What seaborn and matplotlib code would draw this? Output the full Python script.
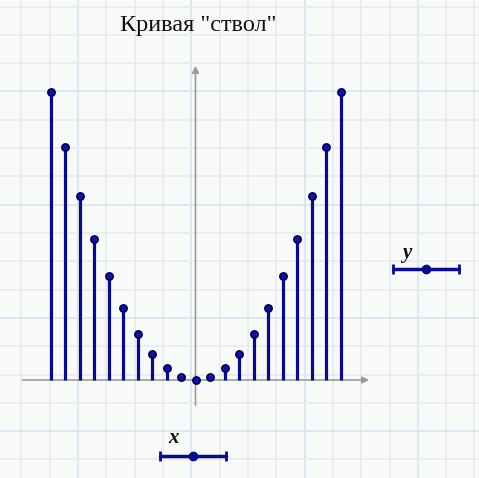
import numpy as np
import pandas as pd
import matplotlib
matplotlib.use("Agg")
import matplotlib.pyplot as plt
import seaborn as sns

# data: the "barrel" curve y = x^2 sampled at integers
x_vals = [-10, -9, -8, -7, -6, -5, -4, -3, -2, -1, 0, 1, 2, 3, 4, 5, 6, 7, 8, 9, 10]
y_vals = [100, 81, 64, 49, 36, 25, 16, 9, 4, 1, 0, 1, 4, 9, 16, 25, 36, 49, 64, 81, 100]
title_text = 'Кривая "ствол"'

df = pd.DataFrame({"x": x_vals, "y": y_vals})

sns.set_theme(style="white")
plt.rcParams['font.family'] = ['DejaVu Sans']
plt.rcParams['mathtext.fontset'] = 'cm'

W, H = 479, 478
fig = plt.figure(figsize=(W / 100, H / 100), dpi=100)
fig.patch.set_facecolor("#f8fafa")

# graph paper background, in pixel coords
bg = fig.add_axes([0, 0, 1, 1])
bg.set_xlim(0, W)
bg.set_ylim(H, 0)
bg.set_facecolor("#f8fafa")
step = 28.31
vx = 21.5 + step * np.arange(17)
hy = 6.5 + step * np.arange(17)
for i, px in enumerate(vx):
    major = i % 4 == 2
    bg.axvline(px, color="#d3e2f0" if major else "#e5eaed", lw=1.1, zorder=0)
for i, py in enumerate(hy):
    major = i % 4 == 3
    bg.axhline(py, color="#d3e2f0" if major else "#e5eaed", lw=1.1, zorder=0)
for s in bg.spines.values():
    s.set_visible(False)
bg.set_xticks([])
bg.set_yticks([])

# slider-like widgets for x and y
navy = "#0b0b86"
for (cx, cy, lab, lx, ly) in [(193, 456, "x", 174, 438), (426, 269, "y", 407, 253)]:
    bg.plot([cx - 33, cx + 33], [cy, cy], color=navy, lw=2.5, zorder=3)
    bg.plot([cx - 33, cx + 33], [cy, cy], ls="none", marker="|", ms=7, mew=2, color=navy, zorder=3)
    bg.plot([cx], [cy], ls="none", marker="o", ms=6, color=navy, zorder=4)
    bg.text(lx, ly, lab, fontsize=15, style="italic", weight="bold",
            family=["Liberation Serif", "DejaVu Serif"],
            ha="center", va="center", color="#111111")

bg.text(198, 25, title_text, fontsize=17.5, ha="center", va="center",
        family=["Liberation Serif", "DejaVu Serif"], color="#111111")

# main plot axes, transparent on top
ax = fig.add_axes([0, 0, 1, 1])
ax.patch.set_alpha(0)
cx0, sx = 195.5, 14.5
cy0, sy = 380.0, 2.88
ax.set_xlim((0 - cx0) / sx, (W - cx0) / sx)
ax.set_ylim((cy0 - H) / sy, (cy0 - 0) / sy)
ax.axis("off")

# coordinate axes with arrows
ax.annotate("", xy=((372 - cx0) / sx, 0), xytext=((20 - cx0) / sx, 0),
            arrowprops=dict(arrowstyle="-|>", color="#9a9a9a", lw=1.2, mutation_scale=10), zorder=1)
ax.annotate("", xy=(0, (cy0 - 63) / sy), xytext=(0, (cy0 - 408) / sy),
            arrowprops=dict(arrowstyle="-|>", color="#9a9a9a", lw=1.2, mutation_scale=10), zorder=1)

ax.vlines(df["x"], 0, df["y"], color=navy, lw=2.3, zorder=3)
sns.scatterplot(data=df, x="x", y="y", ax=ax, s=26, color="#14149a",
                edgecolor="#00005a", linewidth=1.3, zorder=4, legend=False)
ax.set_xlabel("")
ax.set_ylabel("")

fig.savefig("out.png", dpi=100, facecolor=fig.get_facecolor())
